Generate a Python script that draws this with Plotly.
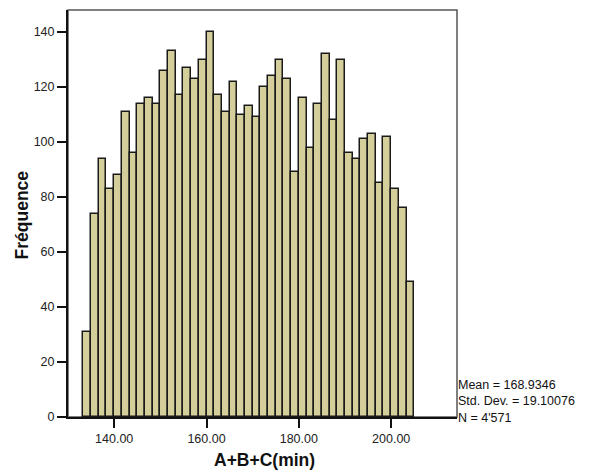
import plotly.graph_objects as go

# Histogram data
bin_start = 133.3333
bin_width = 5.0 / 3.0
counts = [31, 74, 94, 83, 88, 111, 96, 114, 116, 114, 126, 133, 117, 127, 123, 130,
          140, 117, 111, 122, 110, 113, 109, 120, 124, 130, 123, 89, 116, 98, 114,
          132, 108, 130, 96, 94, 101, 103, 85, 102, 83, 76, 49]
x_tick_vals = [140, 160, 180, 200]
x_tick_text = ["140.00", "160.00", "180.00", "200.00"]
y_tick_vals = [0, 20, 40, 60, 80, 100, 120, 140]
stats_lines = ["Mean = 168.9346", "Std. Dev. = 19.10076", "N = 4'571"]

centers = [bin_start + bin_width * (i + 0.5) for i in range(len(counts))]

FONT = "Liberation Sans, Arial, sans-serif"

fig = go.Figure()
fig.add_trace(go.Bar(
    x=centers, y=counts, width=bin_width,
    marker=dict(color="#D4CF9A", line=dict(color="#1a1a1a", width=1.5)),
    hoverinfo="x+y",
))

fig.update_layout(
    width=591, height=475,
    margin=dict(l=68, r=134, t=10, b=58),
    paper_bgcolor="white", plot_bgcolor="white",
    showlegend=False,
    bargap=0,
    font=dict(family=FONT, size=12, color="#111"),
    xaxis=dict(
        range=[130.0, 214.26],
        tickvals=x_tick_vals, ticktext=x_tick_text,
        ticks="outside", ticklen=9, tickwidth=1.5, tickcolor="#111",
        showline=True, linecolor="#111", linewidth=2,
        showgrid=False, zeroline=False,
        tickfont=dict(size=12.5, color="#222"),
    ),
    yaxis=dict(
        range=[0, 148],
        tickvals=y_tick_vals,
        ticks="outside", ticklen=9, tickwidth=1.5, tickcolor="#111",
        showline=True, linecolor="#111", linewidth=2,
        showgrid=False, zeroline=False,
        tickfont=dict(size=12.5, color="#222"),
    ),
    shapes=[dict(type="rect", xref="paper", yref="paper", x0=0, x1=1, y0=0, y1=1,
                 line=dict(color="#555", width=1.5), layer="below")],
    annotations=[
        dict(text="Fréquence", xref="paper", yref="paper", x=-0.119, y=0.497,
             xanchor="center", yanchor="middle", textangle=-90, showarrow=False,
             font=dict(family=FONT, size=17.5, color="#111", weight="bold")),
        dict(text="A+B+C(min)", xref="paper", yref="paper", x=0.506, y=-0.1057,
             xanchor="center", yanchor="middle", showarrow=False,
             font=dict(family=FONT, size=17.5, color="#111", weight="bold")),
        dict(text="<br>".join(stats_lines), xref="paper", yref="paper", x=1.0, y=0.039,
             xanchor="left", yanchor="middle", align="left", showarrow=False, xshift=-1,
             font=dict(family=FONT, size=12.5, color="#111")),
    ],
)

# Remove the default 8px page margin so the figure fills the window exactly.
fig.write_html("out.html", config={"displayModeBar": False},
               post_script="document.body.style.margin='0';")
